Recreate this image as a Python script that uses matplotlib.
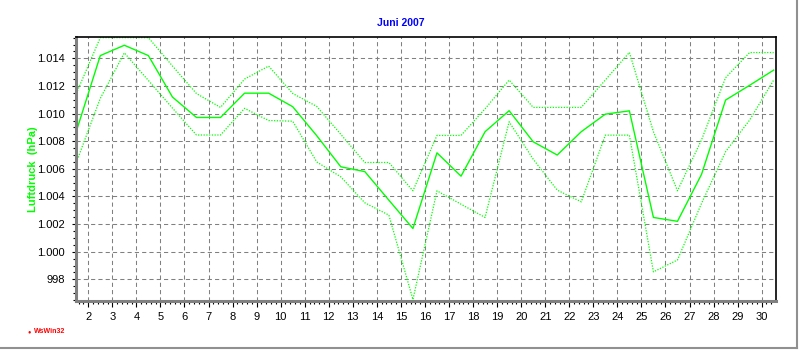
import matplotlib
matplotlib.use("Agg")
import matplotlib.pyplot as plt
from matplotlib.lines import Line2D
from matplotlib.ticker import FixedLocator, MultipleLocator, FuncFormatter
import numpy as np

plt.rcParams["font.family"] = ["Liberation Sans", "DejaVu Sans"]

# daily air pressure, June 2007 (hPa)
days = np.arange(1, 31)
p_mean = [1008.7, 1014.2, 1014.95, 1014.2, 1011.2, 1009.72, 1009.72, 1011.48, 1011.48, 1010.5,
          1008.4, 1006.15, 1005.8, 1003.73, 1001.68, 1007.16, 1005.47, 1008.69, 1010.21, 1007.96,
          1007.0, 1008.69, 1009.96, 1010.2, 1002.48, 1002.2, 1005.6, 1010.98, 1012.05, 1013.15]
p_max = [1011.45, 1015.5, 1015.5, 1015.5, 1013.45, 1011.45, 1010.45, 1012.5, 1013.44, 1011.46,
         1010.52, 1008.5, 1006.46, 1006.46, 1004.41, 1008.42, 1008.42, 1010.35, 1012.43, 1010.45,
         1010.45, 1010.45, 1012.43, 1014.43, 1008.69, 1004.41, 1008.1, 1012.6, 1014.42, 1014.42]
p_min = [1006.45, 1011.1, 1014.4, 1012.4, 1010.4, 1008.45, 1008.45, 1010.38, 1009.5, 1009.45,
         1006.5, 1005.42, 1003.54, 1002.65, 996.54, 1004.41, 1003.44, 1002.48, 1009.41, 1006.7,
         1004.46, 1003.61, 1008.44, 1008.44, 998.54, 999.4, 1003.5, 1007.24, 1009.53, 1012.43]
day_ticks = list(range(2, 31))
p_ticks = list(range(998, 1015, 2))

GREEN = "#00FF00"
GRID = "#808080"

fig = plt.figure(figsize=(8, 3.5), dpi=100)
ax = fig.add_axes([0.095, 0.14, 0.8745, 0.754])

x = days + 0.5
ax.plot(x, p_max, color=GREEN, lw=0.9, linestyle=(0, (1, 1.2)))
ax.plot(x, p_min, color=GREEN, lw=0.9, linestyle=(0, (1, 1.2)))
ax.plot(x, p_mean, color=GREEN, lw=1.0)

ax.set_xlim(1.49, 30.58)
ax.set_ylim(996.43, 1015.54)

ax.xaxis.set_major_locator(FixedLocator(day_ticks))
ax.xaxis.set_minor_locator(MultipleLocator(0.2))
ax.yaxis.set_major_locator(FixedLocator(p_ticks))
ax.yaxis.set_minor_locator(MultipleLocator(0.5))
ax.yaxis.set_major_formatter(FuncFormatter(lambda v, _: f"{v:,.0f}".replace(",", ".")))

ax.grid(True, which="major", color=GRID, lw=0.75, linestyle=(0, (4, 3)))
ax.tick_params(axis="both", which="major", labelsize=8, colors="black", length=3, width=0.8)
ax.tick_params(axis="both", which="minor", length=2, width=0.8)
ax.tick_params(axis="x", which="major", length=4, pad=4)
ax.tick_params(axis="y", which="major", pad=5)
for t in ax.get_xticklines(minor=True) + ax.get_yticklines(minor=True):
    t.set_color(GRID)

for side in ("left", "bottom"):
    ax.spines[side].set_color(GRID)
    ax.spines[side].set_linewidth(2.2)
for side in ("top", "right"):
    ax.spines[side].set_color("black")
    ax.spines[side].set_linewidth(1.2)

fig.text(0.501, 0.934, "Juni 2007", color="#0000FF", fontsize=7.5, fontweight="bold",
         ha="center", va="center")
fig.text(0.041, 0.517, "Luftdruck  (hPa)", color=GREEN, fontsize=8, fontweight="bold",
         rotation=90, ha="center", va="center")

# WsWin32 mark
fig.text(0.037, 0.053, "\u25cf", color="red", fontsize=4, ha="center", va="center")
fig.text(0.042, 0.053, "WsWin32", color="red", fontsize=5, fontweight="bold",
         ha="left", va="center")

# window-like frame at right and bottom
fig.add_artist(Line2D([0, 0.996], [0.006, 0.006], color="#909090", lw=1.5))
fig.add_artist(Line2D([0.996, 0.996], [0.006, 1], color="#909090", lw=1.5))

fig.savefig("out.png", dpi=100)
